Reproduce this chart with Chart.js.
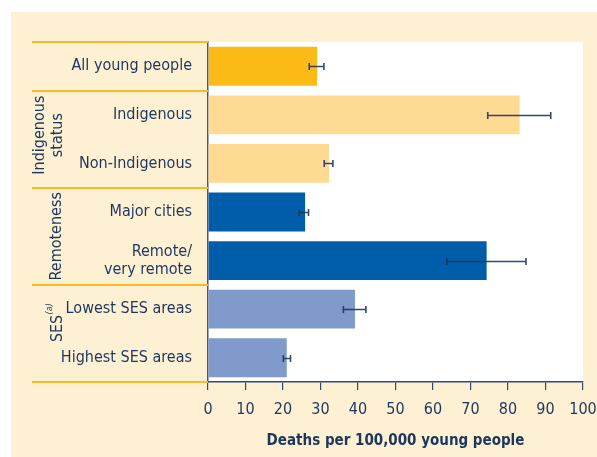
<!DOCTYPE html>
<html><head><meta charset="utf-8">
<script src="https://cdn.jsdelivr.net/npm/chart.js@4"></script>
<style>html,body{margin:0;padding:0;background:#fff}#wrap{width:597px;height:457px;position:relative}</style>
</head><body><div id="wrap"><canvas id="c" width="597" height="457"></canvas></div>
<script>
const categories = ['All young people','Indigenous','Non-Indigenous','Major cities',['Remote/','very remote'],'Lowest SES areas','Highest SES areas'];
const rates = [29.1, 83.1, 32.3, 25.9, 74.3, 39.2, 21.0];
const lowerCI = [27.0, 74.6, 31.0, 24.3, 63.7, 36.1, 20.1];
const upperCI = [30.9, 91.4, 33.3, 26.8, 84.8, 42.1, 22.0];
const xTicks = [0,10,20,30,40,50,60,70,80,90,100];
const groupLabels = [['Indigenous','status'], ['Remoteness'], ['SES']];
const groupStart = [1, 3, 5];
const groupEnd = [2, 4, 6];
const separatorsAfter = [-1, 0, 2, 4, 6];

const barColors = ['#FBBA16','#FEDA92','#FEDA92','#005DAA','#005DAA','#7F9ACB','#7F9ACB'];
const groupX = [[40, 58], [57], [57.5]];
const groupDY = [-4, 0, -5];
const NAVY = '#1B365F';
const CREAM = '#FEF0D2';
const FONT = "'DejaVu Sans Condensed','Liberation Sans Narrow','Open Sans',sans-serif";

const decor = {
  id: 'decor',
  beforeDraw(chart) {
    const ctx = chart.ctx, a = chart.chartArea;
    ctx.save();
    ctx.fillStyle = '#ffffff';
    ctx.fillRect(0, 0, chart.width, chart.height);
    ctx.fillStyle = CREAM;
    ctx.fillRect(11, 12, chart.width - 11, chart.height - 12);
    ctx.fillStyle = '#ffffff';
    ctx.fillRect(a.left, a.top, a.right - a.left, a.bottom - a.top);
    ctx.restore();
  },
  afterDatasetsDraw(chart) {
    const ctx = chart.ctx, xs = chart.scales.x, ys = chart.scales.y;
    ctx.save();
    // error bars
    ctx.strokeStyle = 'rgba(27,54,95,0.9)';
    ctx.lineWidth = 1.6;
    for (let i = 0; i < rates.length; i++) {
      const y = Math.round(ys.getPixelForValue(i)) + 0.5;
      const x1 = xs.getPixelForValue(lowerCI[i]);
      const x2 = xs.getPixelForValue(upperCI[i]);
      ctx.beginPath();
      ctx.moveTo(x1, y); ctx.lineTo(x2, y);
      ctx.moveTo(x1, y - 3.5); ctx.lineTo(x1, y + 3.5);
      ctx.moveTo(x2, y - 3.5); ctx.lineTo(x2, y + 3.5);
      ctx.stroke();
    }
    // separators
    const half = (ys.getPixelForValue(1) - ys.getPixelForValue(0)) / 2;
    ctx.strokeStyle = '#F9BB22';
    ctx.lineWidth = 2;
    separatorsAfter.forEach(i => {
      const y = Math.round(ys.getPixelForValue(i) + half);
      ctx.beginPath();
      ctx.moveTo(32, y); ctx.lineTo(xs.left, y);
      ctx.stroke();
    });
    // group labels
    ctx.fillStyle = NAVY;
    ctx.textAlign = 'center';
    ctx.textBaseline = 'middle';
    groupLabels.forEach((lab, g) => {
      const yc = (ys.getPixelForValue(groupStart[g]) + ys.getPixelForValue(groupEnd[g])) / 2 + groupDY[g];
      lab.forEach((t, k) => {
        ctx.save();
        ctx.font = "16px " + FONT;
        ctx.translate(groupX[g][k], yc);
        ctx.rotate(-Math.PI / 2);
        ctx.fillText(t, 0, 0);
        if (g === 2) {
          const w = ctx.measureText(t).width;
          ctx.font = "italic 9px " + FONT;
          ctx.fillText('(a)', w / 2 + 6, -8);
        }
        ctx.restore();
      });
    });
    ctx.restore();
  }
};

new Chart(document.getElementById('c'), {
  type: 'bar',
  data: {
    labels: categories,
    datasets: [{
      data: rates,
      backgroundColor: barColors,
      borderWidth: 0,
      barPercentage: 0.8,
      categoryPercentage: 1.0
    }]
  },
  options: {
    indexAxis: 'y',
    responsive: false,
    animation: false,
    events: [],
    layout: { padding: { top: 42, right: 14, left: 0, bottom: 0 } },
    plugins: { legend: { display: false }, tooltip: { enabled: false } },
    scales: {
      x: {
        min: 0, max: 100,
        afterFit(s) { s.height = 75; s.paddingLeft = 0; s.paddingRight = 0; },
        afterBuildTicks(s) { s.ticks = xTicks.map(v => ({ value: v })); },
        grid: { drawOnChartArea: false, drawTicks: true, tickLength: 8, color: '#2E4B74', lineWidth: 1.2 },
        border: { display: true, color: '#2E4B74', width: 1.5 },
        ticks: { color: NAVY, padding: 10, font: { family: FONT, size: 16 }, maxRotation: 0 },
        title: { display: true, text: 'Deaths per 100,000 young people', color: NAVY, padding: { top: 0, bottom: 7 }, font: { family: FONT, size: 15, weight: 'bold' } }
      },
      y: {
        afterFit(s) { s.width = 208; s.paddingTop = 0; s.paddingBottom = 0; },
        grid: { display: false, drawTicks: false },
        border: { display: true, color: '#44597A', width: 1.5 },
        ticks: { color: NAVY, padding: 16, font: { family: FONT, size: 16, lineHeight: 1.1 } }
      }
    }
  },
  plugins: [decor]
});
</script>
</body></html>
